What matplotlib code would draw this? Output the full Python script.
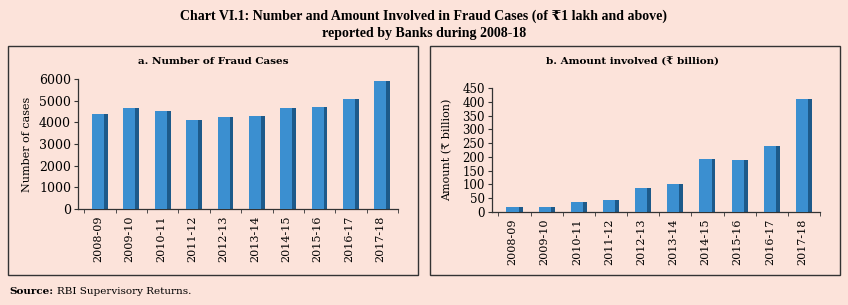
import numpy as np
import matplotlib.pyplot as plt
from matplotlib.patches import Rectangle

# data
years = ["2008-09", "2009-10", "2010-11", "2011-12", "2012-13",
         "2013-14", "2014-15", "2015-16", "2016-17", "2017-18"]
cases = [4372, 4669, 4534, 4093, 4235, 4306, 4639, 4693, 5076, 5917]
amount = [18, 19, 38, 45, 87, 102, 194, 187, 239, 410]

BG = "#fce3da"
FACE = "#3b8fd0"
SIDE = "#1d5a8a"
SERIF = ["DejaVu Serif", "DejaVu Sans"]

fig = plt.figure(figsize=(8.48, 3.05), dpi=100, facecolor=BG)

# titles
fig.text(0.5, 1 - 16 / 305, "Chart VI.1: Number and Amount Involved in Fraud Cases (of \u20b91 lakh and above)",
         ha="center", va="center", fontsize=10, fontweight="bold", family=["Liberation Serif", "DejaVu Serif"])
fig.text(0.5, 1 - 33 / 305, "reported by Banks during 2008-18",
         ha="center", va="center", fontsize=10, fontweight="bold", family=["Liberation Serif", "DejaVu Serif"])

# panel frames
for x0, x1 in [(8, 418), (430, 840)]:
    fig.add_artist(Rectangle((x0 / 848, 1 - 275 / 305), (x1 - x0) / 848, (275 - 46) / 305,
                             transform=fig.transFigure, fill=False, ec="#333333", lw=1.0))

fig.text(9 / 848, 1 - 292 / 305, "Source:", ha="left", va="center", fontsize=7.5,
         fontweight="bold", family=SERIF)
fig.text(57 / 848, 1 - 292 / 305, "RBI Supervisory Returns.", ha="left", va="center",
         fontsize=7.5, family=SERIF)


def rect_center_y(rect):
    return 305 * (1 - (rect[1] + rect[3] / 2))


def draw_panel(rect, vals, ylim, step, title, ylabel, tick_fs, title_xy, ylab_x):
    ax = fig.add_axes(rect)
    ax.set_facecolor("none")
    x = np.arange(len(vals))
    ax.bar(x - 0.06, vals, width=0.38, color=FACE, zorder=3)
    ax.bar(x + 0.19, vals, width=0.12, color=SIDE, zorder=2)
    ax.set_xlim(-0.7, 9.35)
    ax.set_ylim(0, ylim)
    ax.set_yticks(np.arange(0, ylim + 1, step))
    ax.set_xticks(x - 0.06)
    ax.set_xticklabels(years, rotation=90, fontsize=8, family=SERIF)
    ax.set_xticks(np.arange(-0.5, 9.6, 1.0), minor=True)
    ax.tick_params(axis="x", which="major", length=0, pad=5)
    ax.tick_params(axis="x", which="minor", length=3, direction="out", color="#333333")
    ax.tick_params(axis="y", length=3, direction="out", color="#333333", pad=2)
    for lab in ax.get_yticklabels():
        lab.set_fontsize(tick_fs)
        lab.set_family(SERIF)
    for s in ["top", "right"]:
        ax.spines[s].set_visible(False)
    for s in ["left", "bottom"]:
        ax.spines[s].set_color("#333333")
        ax.spines[s].set_linewidth(0.9)
    fig.text(title_xy[0] / 848, 1 - title_xy[1] / 305, title, ha="center", va="center",
             fontsize=7.5, fontweight="bold", family=SERIF)
    fig.text(ylab_x / 848, 1 - rect_center_y(rect) / 305, ylabel, rotation=90,
             ha="center", va="center", fontsize=8, family=SERIF)
    return ax


draw_panel([78 / 848, 1 - 209 / 305, 320 / 848, 130 / 305], cases, 6000, 1000,
           "a. Number of Fraud Cases", "Number of cases", 9, (213, 62), 27)
draw_panel([492 / 848, 1 - 212 / 305, 328 / 848, 124 / 305], amount, 450, 50,
           "b. Amount involved (\u20b9 billion)", "Amount (\u20b9 billion)", 8.5, (633, 62), 447)

fig.savefig("out.png", dpi=100, facecolor=BG)
